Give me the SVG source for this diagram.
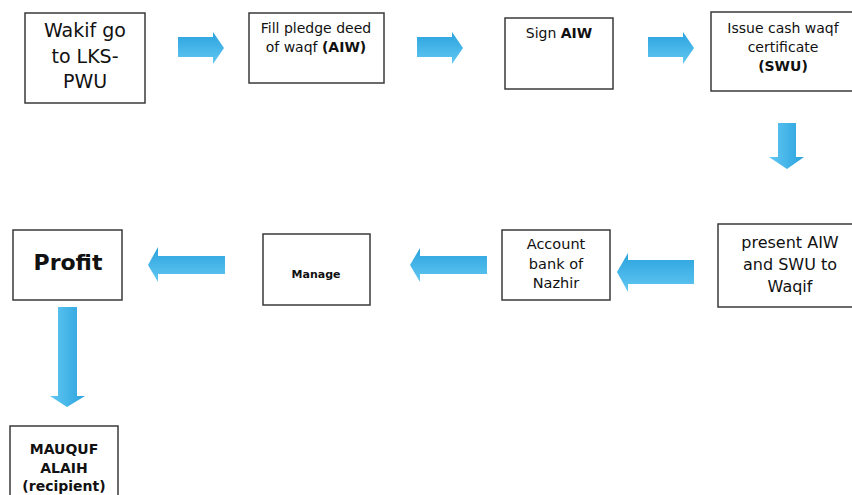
<svg xmlns="http://www.w3.org/2000/svg" width="852" height="495" viewBox="0 0 852 495">
<defs>
<linearGradient id="gh" x1="0" y1="0" x2="0" y2="1">
<stop offset="0" stop-color="#2aa2dd"/>
<stop offset="1" stop-color="#62c8f3"/>
</linearGradient>
<linearGradient id="gv" x1="0" y1="0" x2="1" y2="0">
<stop offset="0" stop-color="#62c8f3"/>
<stop offset="1" stop-color="#2aa2dd"/>
</linearGradient>
</defs>
<style>
.box{fill:#fff;stroke:#3a3a3a;stroke-width:1.5}
text{font-family:"DejaVu Sans",Verdana,sans-serif;fill:#111;text-anchor:middle}
.b{font-weight:bold}
.ah{fill:url(#gh)}
.av{fill:url(#gv)}
</style>
<rect width="852" height="495" fill="#fff"/>
<g id="connectors">
<polygon class="ah" points="178,37 213,37 213,32 224,48 213,64 213,57 178,57"/>
<polygon class="ah" points="417,37 452,37 452,32 463,48 452,64 452,57 417,57"/>
<polygon class="ah" points="648,37 683,37 683,32 694,48 683,64 683,57 648,57"/>
<polygon class="av" points="778,123 796,123 796,157 804,157 787,169 769,157 778,157"/>
<polygon class="ah" points="694,260 628,260 628,253 617,272 628,292 628,284 694,284"/>
<polygon class="ah" points="487,256 420,256 420,248 410,265 420,282 420,274 487,274"/>
<polygon class="ah" points="225,256 158,256 158,247 148,265 158,282 158,274 225,274"/>
<polygon class="av" points="58,307 77,307 77,396 85,396 67,407 50,396 58,396"/>
</g>
<g id="n1">
<rect class="box" x="25" y="13" width="120" height="90"/>
<text font-size="19"><tspan x="85" y="37">Wakif go</tspan><tspan x="85" y="63">to LKS-</tspan><tspan x="85" y="88">PWU</tspan></text>
</g>
<g id="n2">
<rect class="box" x="249" y="13" width="135" height="70"/>
<text font-size="14"><tspan x="316" y="33">Fill pledge deed</tspan><tspan x="316" y="52">of waqf <tspan class="b">(AIW)</tspan></tspan></text>
</g>
<g id="n3">
<rect class="box" x="505" y="18" width="108" height="71"/>
<text font-size="14" x="559" y="38">Sign <tspan class="b">AIW</tspan></text>
</g>
<g id="n4">
<rect class="box" x="711" y="12" width="145" height="79"/>
<text font-size="14"><tspan x="783" y="33">Issue cash waqf</tspan><tspan x="783" y="52">certificate</tspan><tspan x="783" y="71" class="b">(SWU)</tspan></text>
</g>
<g id="n5">
<rect class="box" x="718" y="224" width="138" height="83"/>
<text font-size="16"><tspan x="790" y="248">present AIW</tspan><tspan x="790" y="270">and SWU to</tspan><tspan x="790" y="292">Waqif</tspan></text>
</g>
<g id="n6">
<rect class="box" x="502" y="230" width="108" height="70"/>
<text font-size="14.5"><tspan x="556" y="249">Account</tspan><tspan x="556" y="269">bank of</tspan><tspan x="556" y="288">Nazhir</tspan></text>
</g>
<g id="n7">
<rect class="box" x="263" y="234" width="107" height="71"/>
<text font-size="11" class="b" x="316" y="278">Manage</text>
</g>
<g id="n8">
<rect class="box" x="13" y="230" width="109" height="70"/>
<text font-size="22" class="b" x="68" y="270">Profit</text>
</g>
<g id="n9">
<rect class="box" x="10" y="426" width="108" height="80"/>
<text font-size="14" class="b"><tspan x="64" y="454">MAUQUF</tspan><tspan x="64" y="473">ALAIH</tspan><tspan x="64" y="491">(recipient)</tspan></text>
</g>
</svg>
